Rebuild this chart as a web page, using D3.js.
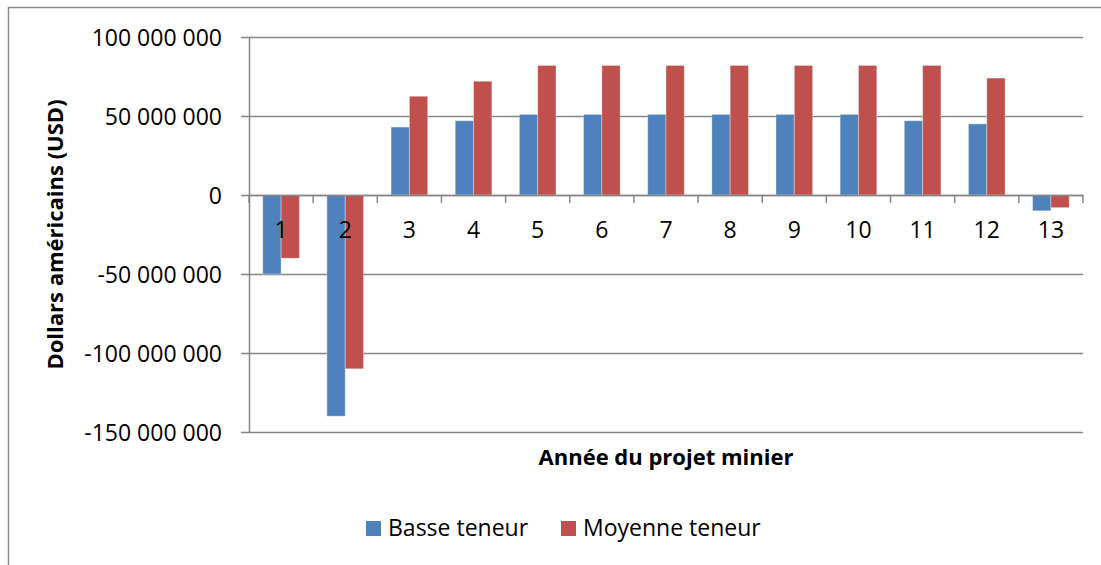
<!DOCTYPE html>
<html>
<head>
<meta charset="utf-8">
<script src="https://cdn.jsdelivr.net/npm/d3@7/dist/d3.min.js"></script>
<style>
   body { margin: 0; background: #fff; }
   text { font-family: "Open Sans", "Noto Sans", sans-serif; fill: #000; }
</style>
</head>
<body>
<script>
// données
var annees = ["1", "2", "3", "4", "5", "6", "7", "8", "9", "10", "11", "12", "13"];
var series = ["Basse teneur", "Moyenne teneur"];
var basseTeneur = [-50e6, -140e6, 43e6, 47e6, 51e6, 51e6, 51e6, 51e6, 51e6, 51e6, 47e6, 45e6, -10e6];
var moyenneTeneur = [-40e6, -110e6, 62.5e6, 72e6, 82e6, 82e6, 82e6, 82e6, 82e6, 82e6, 82e6, 74e6, -8e6];
var yTicks = [-150e6, -100e6, -50e6, 0, 50e6, 100e6];
var couleurs = ["#4F81BD", "#C0504D"];

var width = 1101, height = 565;
var plotLeft = 249, plotRight = 1083, plotTop = 37, plotBottom = 432;

var svgContainer = d3.select("body")
   .append("svg")
   .attr("width", width)
   .attr("height", height);

// cadre du graphique (coupé à droite et en bas)
svgContainer.append("path")
   .attr("d", "M8.5 " + height + " V7.5 H" + width)
   .style("fill", "none")
   .style("stroke", "#8c8c8c")
   .style("stroke-width", 1.5);

var x = d3.scaleBand()
   .domain(annees)
   .range([plotLeft, plotRight])
   .paddingInner(0)
   .paddingOuter(0);

var barW = x.bandwidth() / 3.5;
var xSerie = d3.scaleBand()
   .domain(series)
   .range([0.75 * barW, 2.75 * barW]);

var y = d3.scaleLinear()
   .domain([-150e6, 100e6])
   .range([plotBottom, plotTop]);

var fmt = function(v) {
   return d3.format(",")(v).replace(/,/g, " ").replace("\u2212", "-");
};

// quadrillage + axe vertical
var yAxis = d3.axisLeft(y)
   .tickValues(yTicks)
   .tickSize(-(plotRight - plotLeft))
   .tickSizeOuter(0)
   .tickPadding(0)
   .tickFormat(fmt);

var gy = svgContainer.append("g")
   .attr("transform", "translate(" + plotLeft + ",0)")
   .call(yAxis);
gy.select(".domain").style("stroke", "#868686").style("stroke-width", 1.5);
gy.selectAll(".tick line").style("stroke", "#868686").style("stroke-width", 1.5)
   .attr("x1", -8);
gy.selectAll(".tick text")
   .attr("x", -27)
   .attr("dy", "0.36em")
   .style("font-size", "23px");

// barres
var data = [];
annees.forEach(function(a, i) {
   data.push({ annee: a, serie: series[0], v: basseTeneur[i], c: couleurs[0] });
   data.push({ annee: a, serie: series[1], v: moyenneTeneur[i], c: couleurs[1] });
});

svgContainer.append("g")
   .selectAll("rect")
   .data(data)
   .enter()
   .append("rect")
   .attr("x", function(d) {
      return x(d.annee) + xSerie(d.serie)
   })
   .attr("y", function(d) {
      return Math.min(y(d.v), y(0))
   })
   .attr("width", xSerie.bandwidth())
   .attr("height", function(d) {
      return Math.abs(y(d.v) - y(0))
   })
   .style("fill", function(d) {
      return d.c
   })
   .style("stroke", "rgba(255,255,255,0.35)")
   .style("stroke-width", 1);

// axe horizontal au zéro
var xAxis = d3.axisBottom(x)
   .tickSize(0)
   .tickPadding(0);

var gx = svgContainer.append("g")
   .attr("transform", "translate(0," + y(0) + ")")
   .call(xAxis);
gx.select(".domain").style("stroke", "#868686").style("stroke-width", 1.5);
gx.selectAll(".tick text")
   .attr("y", 0)
   .attr("dy", 43)
   .style("font-size", "23px");

// graduations entre catégories
var bornes = annees.map(function(a) { return x(a); }).concat([plotRight]);
gx.selectAll("line.sep")
   .data(bornes)
   .enter()
   .append("line")
   .attr("class", "sep")
   .attr("x1", function(d) { return d; })
   .attr("x2", function(d) { return d; })
   .attr("y1", 0)
   .attr("y2", 8)
   .style("stroke", "#868686")
   .style("stroke-width", 1.5);

// titres des axes
svgContainer.append("text")
   .attr("x", (plotLeft + plotRight) / 2)
   .attr("y", 465)
   .attr("text-anchor", "middle")
   .style("font-size", "22px")
   .style("font-weight", "bold")
   .text("Année du projet minier");

svgContainer.append("text")
   .attr("transform", "translate(63," + (plotTop + plotBottom) / 2 + ") rotate(-90)")
   .attr("text-anchor", "middle")
   .style("font-size", "22px")
   .style("font-weight", "bold")
   .text("Dollars américains (USD)");

// légende
var legende = svgContainer.append("g")
   .selectAll("g")
   .data(series)
   .enter()
   .append("g")
   .attr("transform", function(d, i) {
      return "translate(" + [366, 561][i] + ",521)"
   });
legende.append("rect")
   .attr("width", 15)
   .attr("height", 15)
   .style("fill", function(d, i) {
      return couleurs[i]
   });
legende.append("text")
   .attr("x", 22)
   .attr("y", 15)
   .style("font-size", "23px")
   .text(function(d) {
      return d
   });
</script>
</body>
</html>
